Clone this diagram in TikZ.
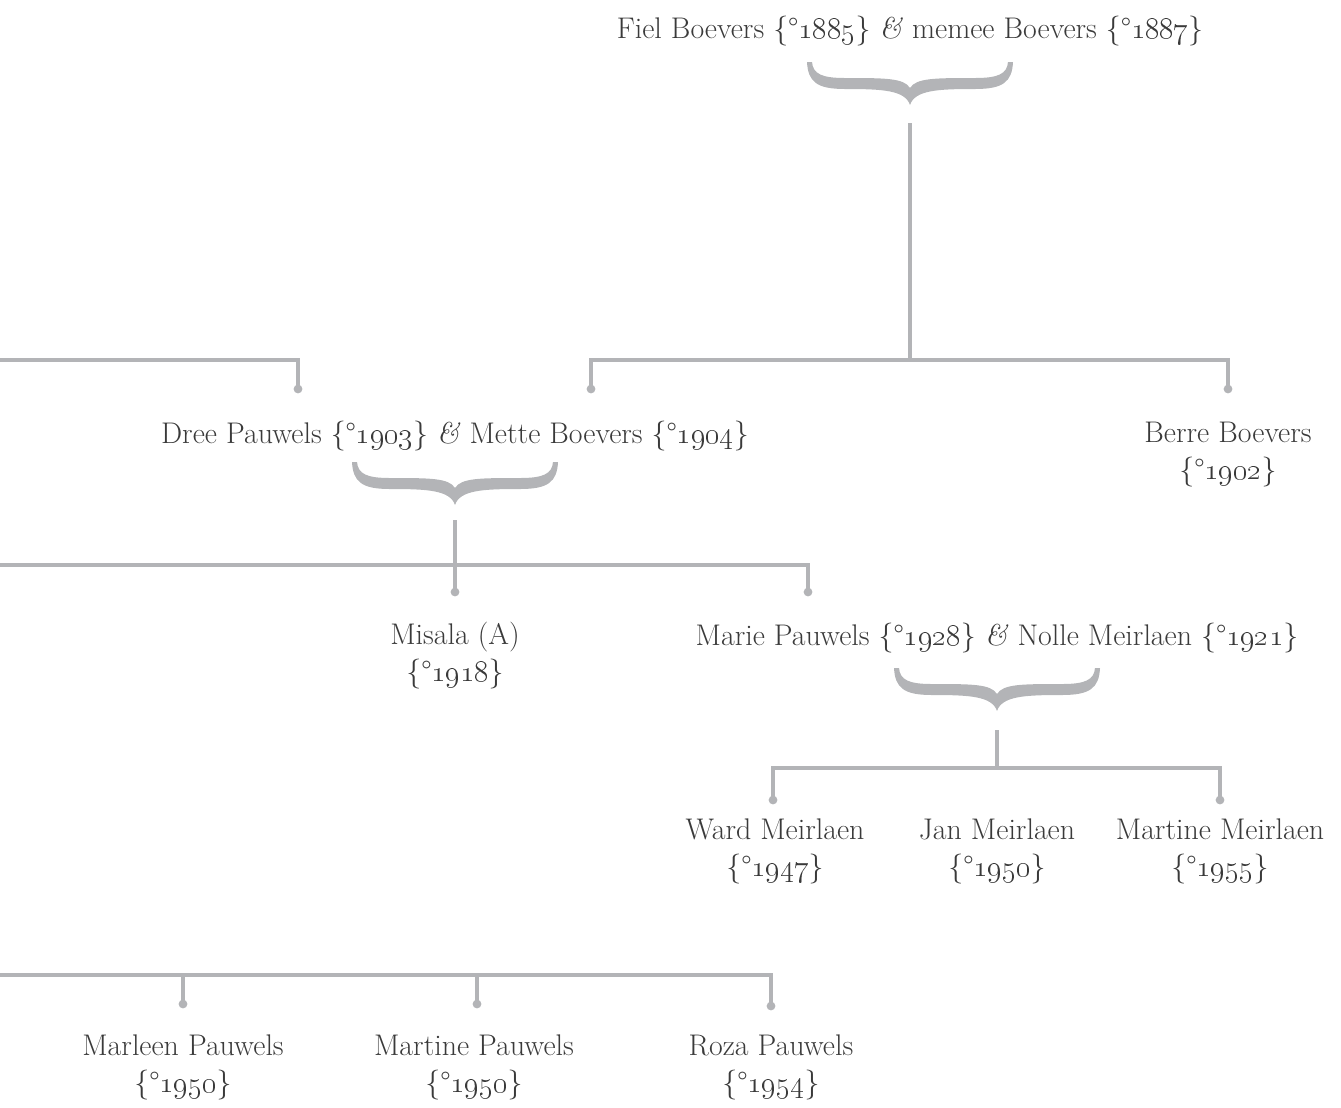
\documentclass[tikz,border=0pt]{standalone}
\usepackage{tikz}
\usetikzlibrary{positioning,calc}

\definecolor{linegray}{HTML}{B3B4B7}
\definecolor{inkgray}{HTML}{3A3A3A}

\newcommand{\born}[1]{\{\textdegree\oldstylenums{#1}\}}
\newcommand{\amp}{\textit{\&}}

\tikzset{
	person/.style={font=\fontsize{17}{20.7}\selectfont, text=inkgray, align=center, anchor=base, inner sep=0pt},
	tie/.style={draw=linegray, line width=2.3pt},
	pics/famBrace/.style={code={
		\fill[linegray] (-103,0) .. controls (-102,20) and (-93,27) .. (-65,27)
		.. controls (-28,27) and (-5,28) .. (0,43)
		.. controls (5,28) and (28,27) .. (65,27)
		.. controls (93,27) and (102,20) .. (103,0)
		-- (98,0) .. controls (97,12) and (88,16) .. (65,16)
		.. controls (25,16) and (6,16) .. (0,26)
		.. controls (-6,16) and (-25,16) .. (-65,16)
		.. controls (-88,16) and (-97,12) .. (-98,0) -- cycle;
	}},
}

\begin{document}
\begin{tikzpicture}[x=0.02cm,y=-0.02cm]
	% frame
	\useasboundingbox (0,0) rectangle (1341,1107);
	
	% couples
	\node[person] (fiel) at (910,38) {Fiel Boevers \born{1885} \amp\ memee Boevers \born{1887}};
	\node[person] (dree) at (455,443) {Dree Pauwels \born{1903} \amp\ Mette Boevers \born{1904}};
	\node[person] (marie) at (997,645) {Marie Pauwels \born{1928} \amp\ Nolle Meirlaen \born{1921}};
	
	% single persons (base = last line)
	\node[person] (berre) at (1228,479) {Berre Boevers\\\born{1902}};
	\node[person] (misala) at (455,681) {Misala (A)\\\born{1918}};
	\node[person] (ward) at (775,876) {Ward Meirlaen\\\born{1947}};
	\node[person] (jan) at (997,876) {Jan Meirlaen\\\born{1950}};
	\node[person] (martineM) at (1220,876) {Martine Meirlaen\\\born{1955}};
	\node[person] (marleen) at (183,1092) {Marleen Pauwels\\\born{1950}};
	\node[person] (martineP) at (474,1092) {Martine Pauwels\\\born{1950}};
	\node[person] (roza) at (771,1092) {Roza Pauwels\\\born{1954}};
	
	% braces under the couples
	\pic at (910,62) {famBrace};
	\pic at (455,462) {famBrace};
	\pic at (997,668) {famBrace};
	
	% tree points
	\coordinate (t1) at (910,123);
	\coordinate (j1) at (910,360);
	\coordinate (e1) at (0,360);
	\coordinate (dDree) at (298,389);
	\coordinate (dMette) at (591,389);
	\coordinate (dBerre) at (1228,389);
	
	\coordinate (t2) at (455,520);
	\coordinate (e2) at (0,565);
	\coordinate (dMisala) at (455,592);
	\coordinate (dMarie) at (808,592);
	
	\coordinate (t3) at (997,730);
	\coordinate (j3) at (997,768);
	\coordinate (dWard) at (773,800);
	\coordinate (dMartineM) at (1220,800);
	
	\coordinate (e4) at (0,975);
	\coordinate (dMarleen) at (183,1004);
	\coordinate (dMartineP) at (477,1004);
	\coordinate (dRoza) at (771,1006);
	
	% lines
	\draw[tie] (t1) -- (j1);
	\draw[tie] (dMette) -- (dMette |- j1) -- (dBerre |- j1) -- (dBerre);
	\draw[tie] (e1) -| (dDree);
	
	\draw[tie] (t2) -- (dMisala);
	\draw[tie] (e2) -| (dMarie);
	
	\draw[tie] (t3) -- (j3);
	\draw[tie] (dWard) |- (j3) -| (dMartineM);
	
	\draw[tie] (e4) -| (dRoza);
	\draw[tie] (dMarleen) -- (dMarleen |- e4);
	\draw[tie] (dMartineP) -- (dMartineP |- e4);
	
	% dots
	\foreach \d in {dDree,dMette,dBerre,dMisala,dMarie,dWard,dMartineM,dMarleen,dMartineP,dRoza}
	\fill[linegray] (\d) circle[radius=2.5pt];
\end{tikzpicture}
\end{document}
